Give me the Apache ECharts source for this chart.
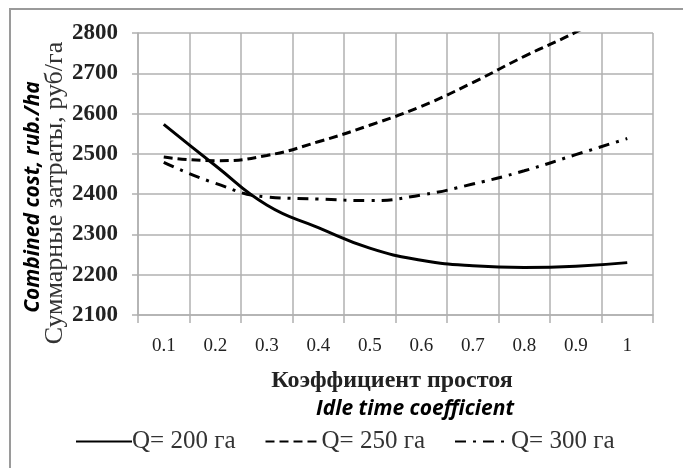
<!DOCTYPE html>
<html>
<head>
<meta charset="utf-8">
<script src="https://cdn.jsdelivr.net/npm/echarts@6/dist/echarts.min.js"></script>
<style>
  html, body { margin: 0; padding: 0; background: #fff; }
  #main { width: 683px; height: 468px; }
</style>
</head>
<body>
<div id="main"></div>
<script>
// idle time coefficient
var categories = ['0.1', '0.2', '0.3', '0.4', '0.5', '0.6', '0.7', '0.8', '0.9', '1'];
// combined cost, rub/ha
var q200 = [2573, 2471, 2373, 2317, 2266, 2236, 2222, 2218, 2221, 2230];
var q250 = [2492, 2483, 2496, 2530, 2571, 2618, 2677, 2742, 2802, 2870];
var q300 = [2479, 2427, 2393, 2388, 2384, 2398, 2425, 2458, 2498, 2538];
var seriesNames = ['Q= 200 га', 'Q= 250 га', 'Q= 300 га'];
var yMin = 2100, yMax = 2800, yStep = 100;

var gridColor = '#b0b0b0';
var serif = '"Liberation Serif", "DejaVu Serif", serif';
var sans = '"Open Sans", "Liberation Sans", sans-serif';

var chart = echarts.init(document.getElementById('main'));

function lineSeries(name, data, type) {
    return {
        name: name,
        type: 'line',
        data: data,
        smooth: true,
        symbol: 'none',
        clip: true,
        lineStyle: { color: '#000', width: 3, type: type }
    };
}

var option = {
    backgroundColor: '#fff',
    animation: false,
    grid: { left: 138, top: 33, width: 515, height: 282 },
    legend: {
        left: 70, top: 424,
        itemWidth: 56, itemHeight: 14, itemGap: 29,
        itemStyle: { opacity: 0 },
        textStyle: { fontFamily: serif, fontSize: 25, color: '#333', padding: [0, 0, 0, -5] },
        data: seriesNames
    },
    xAxis: {
        type: 'category',
        data: categories,
        boundaryGap: true,
        axisLine: { lineStyle: { color: gridColor, width: 1.5 } },
        axisTick: { show: true, length: 8, lineStyle: { color: gridColor, width: 1.5 } },
        axisLabel: { fontFamily: serif, fontSize: 19, color: '#222', margin: 22 },
        splitLine: { show: true, lineStyle: { color: gridColor, width: 1.5 } }
    },
    yAxis: {
        type: 'value',
        min: yMin, max: yMax, interval: yStep,
        axisLine: { show: true, lineStyle: { color: gridColor, width: 1.5 } },
        axisTick: { show: true, length: 6, lineStyle: { color: gridColor, width: 1.5 } },
        axisLabel: {
            fontFamily: serif, fontSize: 23, fontWeight: 'bold', color: '#222', margin: 20,
            formatter: function (v) { return String(v); }
        },
        splitLine: { show: true, lineStyle: { color: gridColor, width: 1.5 } }
    },
    graphic: [
        {
            type: 'rect', silent: true,
            shape: { x: 10, y: 9, width: 720, height: 520 },
            style: { fill: 'none', stroke: '#9a9a9a', lineWidth: 2 }
        },
        {
            type: 'text', x: 33, y: 197, rotation: Math.PI / 2,
            style: {
                text: 'Combined cost, rub./ha', fontFamily: sans, fontSize: 21,
                fontWeight: 'bold', fontStyle: 'italic', fill: '#000',
                align: 'center', verticalAlign: 'middle'
            }
        },
        {
            type: 'text', x: 55, y: 193, rotation: Math.PI / 2,
            style: {
                text: 'Суммарные затраты, руб/га', fontFamily: serif, fontSize: 26,
                fill: '#333', align: 'center', verticalAlign: 'middle'
            }
        },
        {
            type: 'text', x: 392, y: 381,
            style: {
                text: 'Коэффициент простоя', fontFamily: serif, fontSize: 24,
                fontWeight: 'bold', fill: '#222', align: 'center', verticalAlign: 'middle'
            }
        },
        {
            type: 'text', x: 415, y: 409,
            style: {
                text: 'Idle time coefficient', fontFamily: sans, fontSize: 21,
                fontWeight: 'bold', fontStyle: 'italic', fill: '#000',
                align: 'center', verticalAlign: 'middle'
            }
        }
    ],
    series: [
        lineSeries(seriesNames[0], q200, 'solid'),
        lineSeries(seriesNames[1], q250, [9, 5]),
        lineSeries(seriesNames[2], q300, [11, 7, 3, 7])
    ]
};

chart.setOption(option);
</script>
</body>
</html>
